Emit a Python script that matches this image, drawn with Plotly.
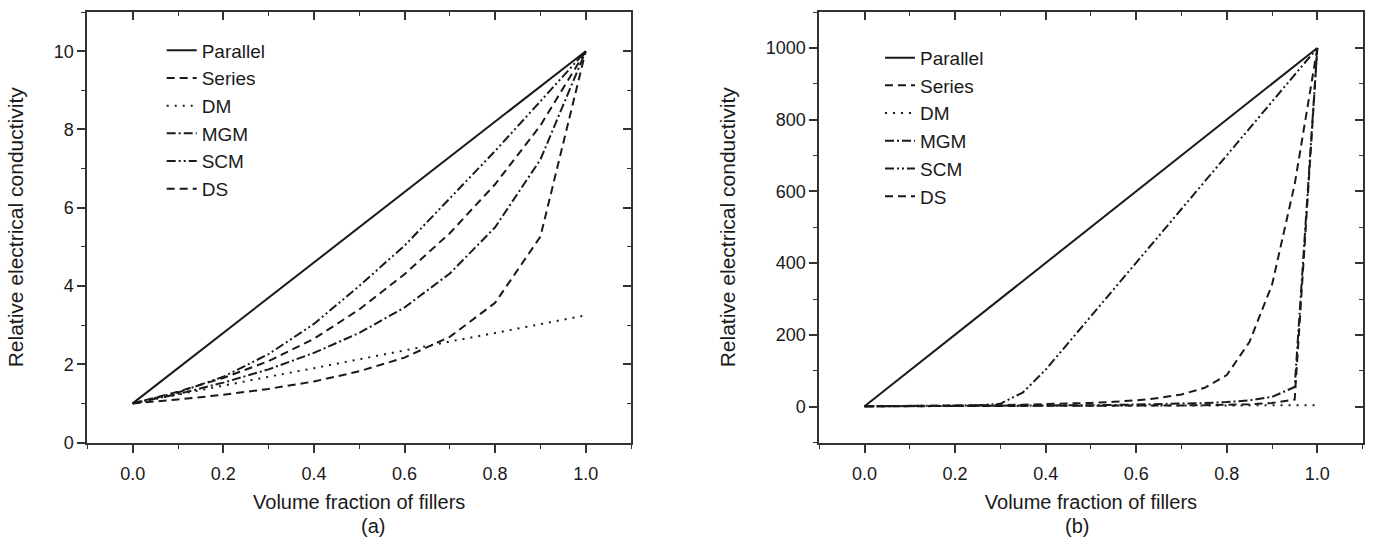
import plotly.graph_objects as go

# ---------------- data ----------------
names = ["Parallel", "Series", "DM", "MGM", "SCM", "DS"]

# panel (a): filler/matrix conductivity ratio 10
xa = [0.0, 0.1, 0.2, 0.3, 0.4, 0.5, 0.6, 0.7, 0.8, 0.9, 1.0]
a_parallel = [1.0, 1.9, 2.8, 3.7, 4.6, 5.5, 6.4, 7.3, 8.2, 9.1, 10.0]
a_series = [1.0, 1.10, 1.22, 1.37, 1.56, 1.82, 2.17, 2.70, 3.57, 5.26, 10.0]
a_dm = [1.0, 1.23, 1.45, 1.68, 1.90, 2.13, 2.35, 2.58, 2.80, 3.03, 3.25]
a_mgm = [1.0, 1.24, 1.53, 1.87, 2.29, 2.80, 3.45, 4.32, 5.50, 7.23, 10.0]
a_scm = [1.0, 1.28, 1.68, 2.26, 3.03, 4.00, 5.03, 6.25, 7.45, 8.72, 10.0]
a_ds = [1.0, 1.30, 1.65, 2.08, 2.65, 3.40, 4.30, 5.35, 6.60, 8.10, 10.0]

# panel (b): filler/matrix conductivity ratio 1000
xb = [0.0, 0.05, 0.1, 0.15, 0.2, 0.25, 0.3, 0.35, 0.4, 0.45, 0.5,
      0.55, 0.6, 0.65, 0.7, 0.75, 0.8, 0.85, 0.9, 0.95, 1.0]
b_parallel = [1, 51, 101, 151, 201, 251, 301, 351, 401, 450, 500,
              550, 600, 650, 700, 750, 800, 850, 900, 950, 1000]
b_series = [1.0, 1.05, 1.11, 1.18, 1.25, 1.33, 1.43, 1.54, 1.67, 1.82, 2.0,
            2.22, 2.5, 2.85, 3.33, 3.99, 4.98, 6.63, 9.91, 19.6, 1000]
b_dm = [1.0, 1.15, 1.30, 1.45, 1.60, 1.75, 1.90, 2.05, 2.20, 2.35, 2.50,
        2.64, 2.79, 2.94, 3.09, 3.24, 3.39, 3.54, 3.69, 3.84, 3.99]
b_mgm = [1.0, 1.16, 1.33, 1.53, 1.75, 2.0, 2.28, 2.61, 2.99, 3.44, 3.98,
         4.64, 5.47, 6.52, 7.93, 9.89, 12.8, 17.7, 27.2, 54.8, 1000]
b_scm = [1.0, 1.17, 1.42, 1.8, 2.4, 3.7, 8.0, 40, 103, 177, 252,
         327, 401, 476, 551, 626, 700, 775, 850, 925, 1000]
b_ds = [1.0, 1.3, 1.7, 2.2, 2.8, 3.5, 4.4, 5.5, 6.8, 8.5, 10.5,
        13.5, 17.5, 24, 34, 52, 88, 180, 340, 620, 1000]

dashes = {
    "Parallel": "solid",
    "Series": "8px,5px",
    "DM": "2px,6px",
    "MGM": "9px,3px,2px,3px",
    "SCM": "9px,3px,2px,3px,2px,3px",
    "DS": "8px,5px",
}

FONT = "Liberation Sans, Arial, sans-serif"
INK = "#1a1a1a"
W, H = 1373, 551

fig = go.Figure()
series_a = [a_parallel, a_series, a_dm, a_mgm, a_scm, a_ds]
series_b = [b_parallel, b_series, b_dm, b_mgm, b_scm, b_ds]
for n, ya in zip(names, series_a):
    fig.add_trace(go.Scatter(x=xa, y=ya, mode="lines", name=n,
                             line=dict(color=INK, width=2, dash=dashes[n]),
                             xaxis="x", yaxis="y", legend="legend"))
for n, yb in zip(names, series_b):
    fig.add_trace(go.Scatter(x=xb, y=yb, mode="lines", name=n,
                             line=dict(color=INK, width=2, dash=dashes[n]),
                             xaxis="x2", yaxis="y2", legend="legend2"))

# invisible carriers so that the top/right frame axes (inside ticks) are drawn
fig.add_trace(go.Scatter(x=xa, y=a_parallel, mode="lines", opacity=0, line=dict(width=0),
                         showlegend=False, hoverinfo="skip", xaxis="x3", yaxis="y3"))
fig.add_trace(go.Scatter(x=xb, y=b_parallel, mode="lines", opacity=0, line=dict(width=0),
                         showlegend=False, hoverinfo="skip", xaxis="x4", yaxis="y4"))

dom_a = [87.4 / W, 631.0 / W]
dom_b = [819.3 / W, 1362.6 / W]
dom_y = [1 - 450.7 / H, 1 - 12.3 / H]

tickfont = dict(family=FONT, size=18, color=INK)
titlefont = dict(family=FONT, size=20, color=INK)
common = dict(showline=True, linewidth=2, linecolor="#333", showgrid=False,
              zeroline=False, tickwidth=1.6, tickcolor="#333", ticklen=8)


def xax(dom, anchor, rng, main=True, overlay=None):
    d = dict(domain=dom, anchor=anchor, range=rng, tick0=0, dtick=0.2,
             tickformat=".1f", fixedrange=True, **common)
    if main:
        d.update(ticks="outside", tickfont=tickfont, side="bottom", ticklabelstandoff=6,
                 minor=dict(ticks="outside", ticklen=4, dtick=0.1, tick0=0,
                            tickwidth=1.4, tickcolor="#333"),
                 title=dict(text="Volume fraction of fillers", font=titlefont, standoff=12))
    else:
        d.update(ticks="inside", showticklabels=False, side="top", overlaying=overlay,
                 minor=dict(ticks="inside", ticklen=4, dtick=0.1, tick0=0,
                            tickwidth=1.4, tickcolor="#333"))
    return d


def yax(dom, anchor, rng, dt, main=True, overlay=None):
    d = dict(domain=dom, anchor=anchor, range=rng, tick0=0, dtick=dt, fixedrange=True, **common)
    if main:
        d.update(ticks="outside", tickfont=tickfont, side="left",
                 minor=dict(ticks="outside", ticklen=4, dtick=dt / 2, tick0=0,
                            tickwidth=1.4, tickcolor="#333"),
                 title=dict(text="Relative electrical conductivity",
                            font=dict(family=FONT, size=21, color=INK), standoff=24))
    else:
        d.update(ticks="inside", showticklabels=False, side="right", overlaying=overlay,
                 minor=dict(ticks="inside", ticklen=4, dtick=dt / 2, tick0=0,
                            tickwidth=1.4, tickcolor="#333"))
    return d


legend_common = dict(font=dict(family=FONT, size=19, color=INK), bgcolor="rgba(0,0,0,0)",
                     xanchor="left", yanchor="top", tracegroupgap=0, itemwidth=30)

fig.update_layout(
    width=W, height=H, margin=dict(l=0, r=0, t=0, b=0),
    paper_bgcolor="white", plot_bgcolor="white",
    font=dict(family=FONT, color=INK),
    showlegend=True,
    xaxis=xax(dom_a, "y", [-0.1, 1.1]),
    yaxis=yax(dom_y, "x", [0, 11], 2),
    xaxis3=xax(dom_a, "y3", [-0.1, 1.1], main=False, overlay="x"),
    yaxis3=yax(dom_y, "x3", [0, 11], 2, main=False, overlay="y"),
    xaxis2=xax(dom_b, "y2", [-0.1, 1.1]),
    yaxis2=yax(dom_y, "x2", [-100, 1100], 200),
    xaxis4=xax(dom_b, "y4", [-0.1, 1.1], main=False, overlay="x2"),
    yaxis4=yax(dom_y, "x4", [-100, 1100], 200, main=False, overlay="y2"),
    legend=dict(x=161.7 / W, y=1 - 32 / H, **legend_common),
    legend2=dict(x=880 / W, y=1 - 39.5 / H, **legend_common),
    annotations=[
        dict(text="(a)", x=(dom_a[0] + dom_a[1]) / 2, y=1 - 536 / H, xref="paper", yref="paper",
             yanchor="middle", showarrow=False, font=titlefont),
        dict(text="(b)", x=(dom_b[0] + dom_b[1]) / 2, y=1 - 536 / H, xref="paper", yref="paper",
             yanchor="middle", showarrow=False, font=titlefont),
    ],
)

fig.write_html("out.html")
